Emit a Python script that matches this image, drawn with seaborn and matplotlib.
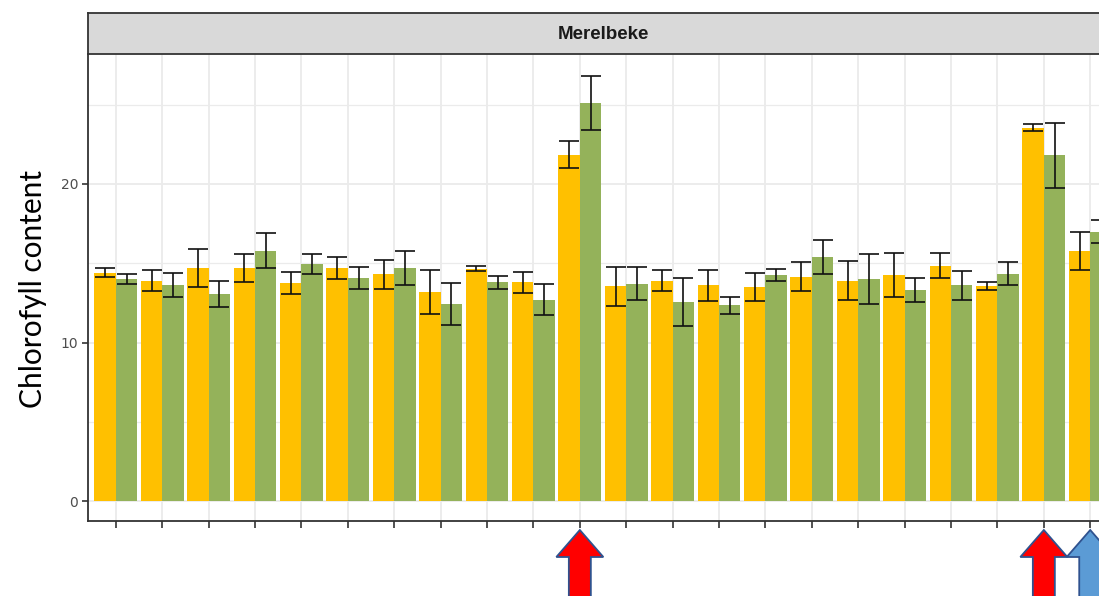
import numpy as np
import pandas as pd
import matplotlib
matplotlib.use("Agg")
import matplotlib.pyplot as plt
import seaborn as sns
from matplotlib.patches import Polygon
from matplotlib.ticker import MultipleLocator
from matplotlib.transforms import IdentityTransform

# data (22 genotypes, two series each)
genotypes = [f"G{i}" for i in range(1, 23)]
series = ["A", "B"]
mean_a = [14.4, 13.9, 14.7, 14.7, 13.75, 14.7, 14.3, 13.2, 14.65, 13.8, 21.85,
          13.55, 13.9, 13.6, 13.5, 14.15, 13.9, 14.25, 14.85, 13.55, 23.55, 15.75]
err_a = [0.27, 0.65, 1.18, 0.88, 0.7, 0.67, 0.9, 1.4, 0.15, 0.65, 0.87,
         1.22, 0.65, 1.0, 0.88, 0.92, 1.22, 1.39, 0.79, 0.24, 0.23, 1.19]
mean_b = [14.0, 13.65, 13.05, 15.8, 14.95, 14.05, 14.7, 12.45, 13.8, 12.7, 25.1,
          13.7, 12.55, 12.35, 14.25, 15.4, 14.0, 13.3, 13.6, 14.35, 21.8, 17.0]
err_b = [0.3, 0.76, 0.8, 1.1, 0.62, 0.7, 1.05, 1.33, 0.4, 0.98, 1.71,
         1.04, 1.53, 0.53, 0.36, 1.06, 1.6, 0.74, 0.9, 0.7, 2.05, 0.72]
colors = ["#FFC000", "#94B25A"]

# arrows marking genotypes of interest (category index, fill colour)
arrow_idx = [10, 20, 21]
arrow_colors = ["#FF0000", "#FF0000", "#5B9BD5"]

df = pd.DataFrame({
    "genotype": genotypes * 2,
    "series": [series[0]] * len(genotypes) + [series[1]] * len(genotypes),
    "chl": mean_a + mean_b,
})

W, H = 1099, 596
fig = plt.figure(figsize=(W / 100, H / 100), dpi=100)

# panel: left edge at 88 px, 46.4 px per category, runs past the right edge
step = 46.4
left, bottom, top = 88, 521, 54
ax = fig.add_axes([left / W, (H - bottom) / H, step * 22.2 / W, (bottom - top) / H])

sns.barplot(data=df, x="genotype", y="chl", hue="series", hue_order=series,
            palette=colors, errorbar=None, width=0.92, saturation=1,
            linewidth=0, legend=False, ax=ax)

for cont, m, e in zip(ax.containers, [mean_a, mean_b], [err_a, err_b]):
    xs = [b.get_x() + b.get_width() / 2 for b in cont]
    ax.errorbar(xs, m, yerr=e, fmt="none", ecolor="#111111",
                elinewidth=1.2, capsize=7.5, capthick=1.2, zorder=3)

ax.set_xlim(-0.6, 21.6)
ax.set_ylim(-1.26, 28.2)
ax.yaxis.set_major_locator(MultipleLocator(10))
ax.yaxis.set_minor_locator(MultipleLocator(5))
ax.set_axisbelow(True)
ax.grid(which="major", color="#EBEBEB", linewidth=1.3)
ax.grid(which="minor", axis="y", color="#EBEBEB", linewidth=0.9)
ax.tick_params(axis="x", labelbottom=False, length=5, width=1.2, color="#333333")
ax.tick_params(axis="y", which="major", length=4, width=1.2, color="#333333",
               labelsize=10, labelcolor="#4D4D4D", pad=3)
ax.tick_params(axis="y", which="minor", length=0)
ax.set_xlabel("")
ax.set_ylabel("")
for s in ["top", "right"]:
    ax.spines[s].set_visible(False)
for s in ["left", "bottom"]:
    ax.spines[s].set_color("#333333")
    ax.spines[s].set_linewidth(1.3)

# facet strip
strip = fig.add_axes([left / W, (H - top) / H, step * 22.2 / W, 41 / H])
strip.set_facecolor("#D9D9D9")
strip.set_xticks([])
strip.set_yticks([])
for s in strip.spines.values():
    s.set_color("#333333")
    s.set_linewidth(1.3)
strip.text(0.5, 0.48, "Merelbeke", ha="center", va="center",
           fontsize=13.5, fontweight="bold", color="#1A1A1A",
           family="Liberation Sans", transform=strip.transAxes)

fig.text(33 / W, (H - 289) / H, "Chlorofyll content", rotation=90,
         ha="center", va="center", fontsize=21.5, family="Lato", color="black")

# block arrows under the x axis
for idx, col in zip(arrow_idx, arrow_colors):
    cx = ax.transData.transform((idx, 0))[0]
    tip, base, end = H - 530, H - 557, -10
    hw, sw = 23.5, 11
    pts = [(cx, tip), (cx + hw, base), (cx + sw, base), (cx + sw, end),
           (cx - sw, end), (cx - sw, base), (cx - hw, base)]
    fig.add_artist(Polygon(pts, closed=True, facecolor=col, edgecolor="#2F528F",
                           linewidth=1.3, transform=IdentityTransform(),
                           clip_on=False))

fig.savefig("out.png", dpi=100)
